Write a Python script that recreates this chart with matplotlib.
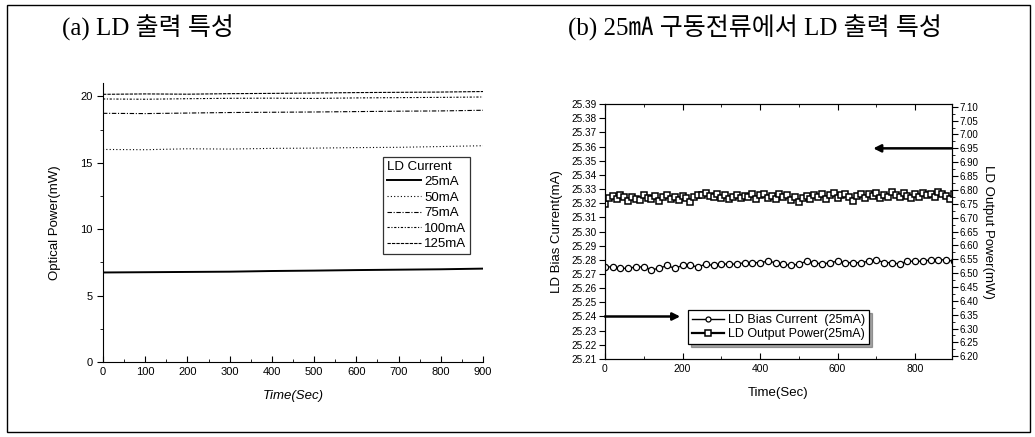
import numpy as np
import matplotlib
matplotlib.use("Agg")
import matplotlib.pyplot as plt
from matplotlib.patches import Rectangle
from matplotlib.ticker import MultipleLocator, FormatStrFormatter

plt.rcParams['font.family'] = ['Liberation Sans', 'Noto Sans CJK KR', 'DejaVu Sans']

# (a) optical power vs time for several drive currents
t_a = [0, 100, 200, 300, 400, 500, 600, 700, 800, 900]
p_25 = [6.74, 6.76, 6.78, 6.80, 6.85, 6.88, 6.92, 6.95, 6.98, 7.03]
p_50 = [16.00, 15.98, 16.05, 16.03, 16.08, 16.10, 16.14, 16.16, 16.22, 16.28]
p_75 = [18.72, 18.70, 18.74, 18.78, 18.80, 18.82, 18.85, 18.88, 18.90, 18.95]
p_100 = [19.80, 19.78, 19.82, 19.85, 19.86, 19.84, 19.88, 19.90, 19.92, 19.95]
p_125 = [20.15, 20.18, 20.16, 20.20, 20.22, 20.25, 20.28, 20.30, 20.32, 20.36]
labels_a = ['25mA', '50mA', '75mA', '100mA', '125mA']

# (b) bias current and output power at 25mA
t_bias = np.arange(0, 901, 20)
bias = [25.275, 25.275, 25.274, 25.274, 25.275, 25.275, 25.273, 25.274, 25.276, 25.274,
        25.276, 25.276, 25.275, 25.277, 25.276, 25.277, 25.277, 25.277, 25.278, 25.278,
        25.278, 25.279, 25.278, 25.277, 25.276, 25.277, 25.279, 25.278, 25.277, 25.278,
        25.279, 25.278, 25.278, 25.278, 25.279, 25.280, 25.278, 25.278, 25.277, 25.279,
        25.279, 25.279, 25.280, 25.280, 25.280, 25.279]
t_pow = np.arange(0, 901, 10)
power = [6.748, 6.770, 6.778, 6.766, 6.783, 6.774, 6.760, 6.776, 6.768, 6.763,
         6.780, 6.772, 6.766, 6.778, 6.760, 6.774, 6.782, 6.768, 6.776, 6.764,
         6.778, 6.770, 6.758, 6.776, 6.783, 6.780, 6.788, 6.778, 6.774, 6.786,
         6.772, 6.780, 6.768, 6.776, 6.782, 6.770, 6.778, 6.774, 6.784, 6.768,
         6.780, 6.786, 6.770, 6.778, 6.766, 6.784, 6.774, 6.780, 6.762, 6.776,
         6.758, 6.772, 6.778, 6.766, 6.780, 6.774, 6.784, 6.768, 6.782, 6.788,
         6.772, 6.780, 6.786, 6.776, 6.760, 6.778, 6.784, 6.772, 6.786, 6.778,
         6.790, 6.770, 6.782, 6.776, 6.792, 6.780, 6.774, 6.788, 6.778, 6.770,
         6.784, 6.776, 6.788, 6.780, 6.786, 6.774, 6.792, 6.784, 6.778, 6.768,
         6.786]

fig = plt.figure(figsize=(10.35, 4.37), dpi=100)

# page frame
fig.add_artist(Rectangle((0.0068, 0.0114), 0.988, 0.978, transform=fig.transFigure,
                         fill=False, lw=1.0, color='k'))

title_font = ['Liberation Serif', 'Noto Sans CJK KR', 'DejaVu Sans']
fig.text(0.060, 0.936, '(a) LD 출력 특성', fontsize=18, family=title_font, va='center')
fig.text(0.549, 0.936, '(b) 25㎃ 구동전류에서 LD 출력 특성', fontsize=18, family=title_font,
         va='center')

# ---- panel (a)
ax = fig.add_axes([0.0995, 0.1716, 0.3672, 0.6384])
styles = ['-', (0, (1, 2)), (0, (4, 1.5, 1, 1.5)), (0, (2, 1.5, 1, 1.5)), (0, (3, 1))]
for ys, ls, lab in zip([p_25, p_50, p_75, p_100, p_125], styles, labels_a):
    lw = 1.4 if ls == '-' else 0.8
    ax.plot(t_a, ys, color='k', ls=ls, lw=lw, label=lab)
ax.set_xlim(0, 900)
ax.set_ylim(0, 21)
ax.spines['top'].set_visible(False)
ax.spines['right'].set_visible(False)
ax.xaxis.set_major_locator(MultipleLocator(100))
ax.xaxis.set_minor_locator(MultipleLocator(50))
ax.yaxis.set_major_locator(MultipleLocator(5))
ax.yaxis.set_minor_locator(MultipleLocator(2.5))
ax.tick_params(axis='x', which='both', direction='in', labelsize=8)
ax.tick_params(axis='y', which='both', direction='out', labelsize=8)
ax.tick_params(which='major', length=4)
ax.tick_params(which='minor', length=2)
ax.set_xlabel('Time(Sec)', fontsize=9.5, style='italic')
ax.set_ylabel('Optical Power(mW)', fontsize=9.5)
ax.xaxis.set_label_coords(0.5, -0.1)
ax.yaxis.set_label_coords(-0.11, 0.5)
leg = ax.legend(title='LD Current', loc='upper left', bbox_to_anchor=(0.72, 0.76),
                fontsize=9.5, title_fontsize=9.5, frameon=True, fancybox=False,
                handlelength=2.6, handletextpad=0.2, borderpad=0.3, labelspacing=0.25,
                alignment='left')
leg.get_frame().set_edgecolor('k')
leg.get_frame().set_linewidth(0.9)

# ---- panel (b)
bx = fig.add_axes([0.5845, 0.1785, 0.3353, 0.5835])
bx.plot(t_bias, bias, color='k', lw=1.0, marker='o', ms=4.5, mfc='white', mec='k',
        mew=0.9, label='LD Bias Current  (25mA)')
bx.set_xlim(0, 895)
bx.set_ylim(25.21, 25.39)
bx.yaxis.set_major_locator(MultipleLocator(0.01))
bx.yaxis.set_major_formatter(FormatStrFormatter('%.2f'))
bx.xaxis.set_major_locator(MultipleLocator(200))
bx.xaxis.set_minor_locator(MultipleLocator(100))
bx.tick_params(axis='x', which='both', direction='in', top=True, labelsize=7.5)
bx.tick_params(axis='y', which='both', direction='out', labelsize=7.2, pad=2)
bx.tick_params(which='major', length=4)
bx.tick_params(which='minor', length=2)
bx.set_xlabel('Time(Sec)', fontsize=9.5)
bx.set_ylabel('LD Bias Current(mA)', fontsize=9.5)
bx.xaxis.set_label_coords(0.5, -0.11)
bx.yaxis.set_label_coords(-0.12, 0.5)

bx2 = bx.twinx()
bx2.plot(t_pow, power, color='k', lw=1.6, marker='s', ms=5, mfc='white', mec='k',
         mew=1.1, label='LD Output Power(25mA)')
bx2.set_ylim(6.19, 7.11)
bx2.yaxis.set_major_locator(MultipleLocator(0.05))
bx2.yaxis.set_minor_locator(MultipleLocator(0.025))
bx2.yaxis.set_major_formatter(FormatStrFormatter('%.2f'))
bx2.tick_params(axis='y', which='both', direction='out', labelsize=7, pad=1.5)
bx2.tick_params(which='major', length=4)
bx2.tick_params(which='minor', length=2)
bx2.set_ylabel('LD Output Power(mW)', fontsize=9.5, rotation=270, va='bottom')
bx2.yaxis.set_label_coords(1.087, 0.5)

# arrows pointing at the matching axes
bx2.annotate('', xy=(692, 6.95), xytext=(895, 6.95),
             arrowprops=dict(arrowstyle='-|>', lw=1.8, color='k', mutation_scale=11,
                             shrinkA=0, shrinkB=0))
bx.annotate('', xy=(194, 25.24), xytext=(0, 25.24),
            arrowprops=dict(arrowstyle='-|>', lw=1.8, color='k', mutation_scale=11,
                            shrinkA=0, shrinkB=0))

h1, l1 = bx.get_legend_handles_labels()
h2, l2 = bx2.get_legend_handles_labels()
leg2 = bx2.legend(h1 + h2, l1 + l2, loc='upper left', bbox_to_anchor=(0.222, 0.215),
                  fontsize=9, frameon=True, fancybox=False, shadow=True,
                  handlelength=2.6, handletextpad=0.3, borderpad=0.3, labelspacing=0.15,
                  markerscale=0.8)
leg2.get_frame().set_edgecolor('k')
leg2.get_frame().set_linewidth(0.9)

fig.savefig('out.png', dpi=100)
